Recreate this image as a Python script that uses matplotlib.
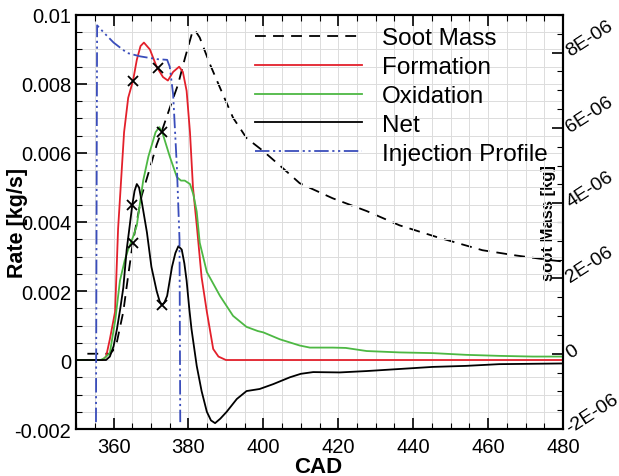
import matplotlib

matplotlib.use("Agg")

import matplotlib.pyplot as plt  # noqa: E402
from matplotlib.ticker import MultipleLocator, FixedLocator, FixedFormatter  # noqa: E402

plt.rcParams["font.family"] = ["Liberation Sans", "DejaVu Sans"]

# Formation rate [kg/s]
form_x = [350, 357, 358, 359, 360.4, 361.2, 362, 362.8, 363.9, 365.2, 366.2, 367.2, 368.1, 369.7,
          371.5, 373.2, 374.5, 375.9, 377.5, 378.5, 379.5, 380.4, 381.2, 382.3, 383.5, 384.9,
          386.6, 388, 390, 480]
form_y = [0, 0, 0.0001, 0.0006, 0.0014, 0.0038, 0.0052, 0.0066, 0.0076, 0.0081, 0.0087, 0.0091, 0.0092,
          0.0090, 0.0085, 0.0082, 0.0081, 0.00835, 0.0085, 0.00835, 0.0078, 0.0066, 0.0050, 0.0038,
          0.0024, 0.0014, 0.00032, 0.0001, 0, 0]

# Oxidation rate [kg/s]
oxid_x = [350, 356.5, 357.5, 359, 360.5, 361.7, 363, 363.9, 365.3, 366.2, 367.9, 369.3, 371.2, 372.2,
          373, 375, 376.9, 378, 379, 380.4, 381.3, 382.2, 383, 384.9, 388.4, 391.9, 395.5, 398.5,
          400, 404.4, 409.7, 412.4, 418.5, 422, 427.6, 436.4, 445.2, 454.1, 463, 471.9, 480]
oxid_y = [0, 0, 0.00005, 0.0002, 0.0012, 0.0023, 0.0029, 0.0032, 0.0036, 0.0039, 0.0052, 0.0059,
          0.0066, 0.00675, 0.0066, 0.0059, 0.0053, 0.0052, 0.0052, 0.0051, 0.0048, 0.0043, 0.0034,
          0.00255, 0.00186, 0.00128, 0.00096, 0.00084, 0.0008, 0.0006, 0.00042, 0.00036, 0.00036,
          0.00035, 0.00026, 0.00022, 0.0002, 0.00015, 0.00012, 0.0001, 0.0001]

# Net rate [kg/s]
net_x = [350, 358, 359, 360, 360.9, 361.8, 362.6, 363.5, 364.2, 365, 365.6, 366.2, 366.8, 367.5,
         368.9, 370.1, 371.5, 372.3, 372.9, 373.5, 374.3, 375.6, 376.5, 377.3, 378.2, 378.9, 379.5,
         380.2, 380.8, 382.2, 383.5, 384.9, 386, 387.1, 388.5, 390.2, 392.9, 395.5, 399, 402.6,
         407.1, 410, 413.3, 420.4, 427.6, 436.4, 445.2, 454.1, 463, 480]
net_y = [0, 0, 0.0001, 0.0004, 0.0009, 0.0015, 0.0021, 0.0032, 0.0038, 0.0045, 0.0049, 0.0051, 0.0050,
         0.0046, 0.0037, 0.0027, 0.0020, 0.0017, 0.0016, 0.00165, 0.00186, 0.0027, 0.0031, 0.0033,
         0.0032, 0.0028, 0.0023, 0.0015, 0.0009, -0.00017, -0.0009, -0.0015, -0.00175, -0.00183,
         -0.0017, -0.0015, -0.00113, -0.0009, -0.00084, -0.0007, -0.0005, -0.0004, -0.00035,
         -0.00036, -0.00032, -0.00026, -0.0002, -0.00017, -0.00012, -0.0001]

# Soot mass [kg] (right axis)
soot_x = [353, 359, 360, 360.9, 362.6, 363.9, 365.2, 367.5, 369.7, 371.5, 373, 375, 377.2, 379.1,
          380.9, 381.7, 383, 385.7, 388.4, 391.9, 395.5, 399.9, 405.2, 409.7, 418.5, 427.6, 436.4,
          446.3, 458.5, 467.5, 477.2, 480]
soot_y = [0, 0, 0.1e-6, 0.32e-6, 1.12e-6, 2.08e-6, 2.99e-6, 4.2e-6, 4.93e-6, 5.55e-6, 5.95e-6,
          6.53e-6, 7.15e-6, 7.87e-6, 8.5e-6, 8.6e-6, 8.4e-6, 7.7e-6, 7.07e-6, 6.27e-6, 5.73e-6,
          5.39e-6, 4.93e-6, 4.53e-6, 4.13e-6, 3.79e-6, 3.41e-6, 3.1e-6, 2.75e-6, 2.61e-6, 2.48e-6,
          2.45e-6]

# Injection profile (drawn on the rate axis)
inj_x = [355.3, 355.6, 357.3, 360, 363.6, 367.1, 371.6, 374.3, 375, 375.9, 376.9, 377.6, 377.8]
inj_y = [-0.0018, 0.0097, 0.0095, 0.0092, 0.0089, 0.0088, 0.00872, 0.0087, 0.0085, 0.0077, 0.0056,
         0.0035, -0.0018]

# cross markers
mark_x = [365.2, 371.9, 365, 373, 365.2, 373]
mark_y = [0.0081, 0.00846, 0.0045, 0.0016, 0.0034, 0.0066]

left_ticks = [-0.002, 0, 0.002, 0.004, 0.006, 0.008, 0.01]
left_labels = ["-0.002", "0", "0.002", "0.004", "0.006", "0.008", "0.01"]
right_ticks = [-2e-6, 0, 2e-6, 4e-6, 6e-6, 8e-6]
right_labels = ["-2E-06", "0", "2E-06", "4E-06", "6E-06", "8E-06"]

RED = "#e3202b"
GREEN = "#4db843"
BLUE = "#3a4dbb"

fig = plt.figure(figsize=(6.19, 4.77), dpi=100)
ax = fig.add_axes([0.123, 0.0985, 0.7865, 0.868])
ax2 = ax.twinx()

ax.set_zorder(2)
ax.patch.set_visible(False)

h_soot, = ax2.plot(soot_x, soot_y, color="black", lw=1.3, ls=(0, (6, 4)), label="Soot Mass")
h_form, = ax.plot(form_x, form_y, color=RED, lw=1.3, label="Formation")
h_oxid, = ax.plot(oxid_x, oxid_y, color=GREEN, lw=1.3, label="Oxidation")
h_net, = ax.plot(net_x, net_y, color="black", lw=1.3, label="Net")
h_inj, = ax.plot(inj_x, inj_y, color=BLUE, lw=1.3, ls=(0, (8, 2, 1.2, 2, 1.2, 2)),
                 label="Injection Profile")
ax.plot(mark_x, mark_y, ls="none", marker="x", color="black", ms=7, mew=1.3)

ax.set_xlim(350, 480)
ax.set_ylim(-0.002, 0.01)
ax2.set_ylim(-2e-6, 9e-6)

ax.xaxis.set_major_locator(MultipleLocator(20))
ax.xaxis.set_minor_locator(MultipleLocator(5))
ax.yaxis.set_major_locator(FixedLocator(left_ticks))
ax.yaxis.set_major_formatter(FixedFormatter(left_labels))
ax.yaxis.set_minor_locator(MultipleLocator(0.0005))
ax2.yaxis.set_major_locator(FixedLocator(right_ticks))
ax2.yaxis.set_major_formatter(FixedFormatter(right_labels))
ax2.yaxis.set_minor_locator(MultipleLocator(0.5e-6))

ax.grid(which="both", color="#dcdcdc", lw=0.7)
ax.set_axisbelow(True)

ax.tick_params(which="both", direction="in", top=True, right=False, labelsize=14.5, colors="black")
ax.tick_params(which="major", length=8, width=1.2)
ax.tick_params(which="minor", length=4, width=0.8)
ax.tick_params(axis="x", pad=6)
ax2.tick_params(which="both", direction="in", labelsize=14)
ax2.tick_params(which="major", length=8, width=1.2)
ax2.tick_params(which="minor", length=4, width=0.8)
for lab in ax2.get_yticklabels():
    lab.set_rotation(33)
    lab.set_rotation_mode("anchor")
    lab.set_va("center")
    lab.set_ha("left")

for sp in ax.spines.values():
    sp.set_linewidth(1.5)
for sp in ax2.spines.values():
    sp.set_linewidth(1.5)

ax.set_xlabel("CAD", fontsize=16, fontweight="bold")
ax.xaxis.set_label_coords(0.497, -0.066)
ax.xaxis.label.set_va("top")
ax.set_ylabel("Rate [kg/s]", fontsize=15.5, fontweight="bold")
ax.yaxis.set_label_coords(-0.0985, 0.5)
ax2.set_ylabel("soot Mass [kg]", fontsize=12, fontweight="bold")
ax2.yaxis.set_label_coords(0.955, 0.5)

ax.legend(handles=[h_soot, h_form, h_oxid, h_net, h_inj], loc="upper left",
          bbox_to_anchor=(0.368, 0.97), frameon=False, fontsize=17.5, handlelength=4.4,
          handletextpad=0.82, labelspacing=0.28, borderpad=0, borderaxespad=0)

fig.savefig("out.png", dpi=100)
plt.close(fig)
